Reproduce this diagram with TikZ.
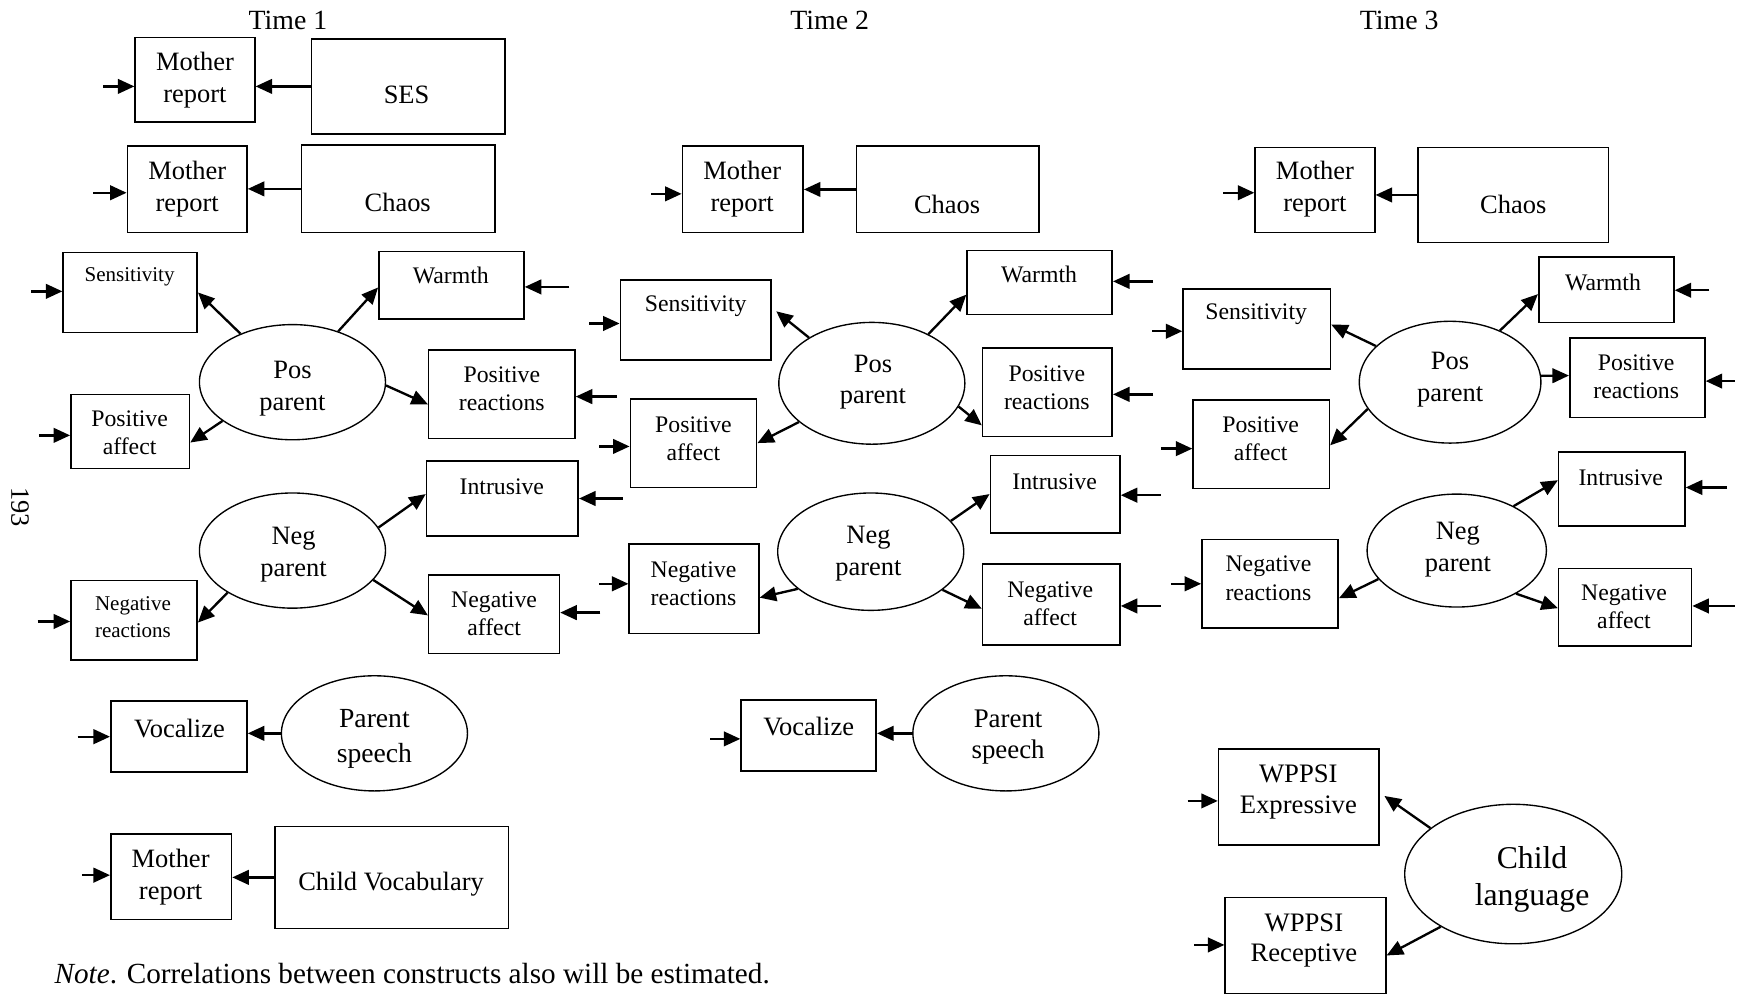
\documentclass[tikz,border=0pt]{standalone}
\usepackage{fontspec}
\setmainfont{Liberation Serif}
\usetikzlibrary{shapes.geometric,arrows.meta,fit,calc}
\newcommand\fmain{\fontsize{13.6}{16.4}\selectfont}
\newcommand\fmid{\fontsize{12.2}{14.4}\selectfont}
\newcommand\fsmall{\fontsize{10.8}{13.6}\selectfont}
\newcommand\flarge{\fontsize{16.3}{19.3}\selectfont}
\newcommand\ftime{\fontsize{14.3}{17}\selectfont}
% observed indicator: name, top-left corner, bottom-right corner
\newcommand\obs[3]{\node[box, fit={#2 #3}] (#1) {};}
% latent construct: name, centre x, centre y, radius x, radius y
\newcommand\lv[5]{\node[lat, minimum width=#4*0.04cm, minimum height=#5*0.04cm] (#1) at (#2,#3) {};}
\begin{document}
\begin{tikzpicture}[x=0.02cm,y=-0.02cm,
  box/.style={draw, line width=0.8pt, inner sep=0pt},
  lat/.style={draw, ellipse, line width=0.7pt, inner sep=0pt},
  lbl/.style={align=center, inner sep=0pt, font=\fmid},
  path/.style={line width=1.2pt, -{Triangle[length=8.5pt,width=7.5pt]}},
]
\path[use as bounding box] (0,0) rectangle (1568,898);

% ---------- column headings ----------
\node[lbl, font=\ftime] (h1) at (260,18) {Time 1};
\node[lbl, font=\ftime] (h2) at (749,18) {Time 2};
\node[lbl, font=\ftime] (h3) at (1263,18) {Time 3};
\node[lbl, font=\fmain, rotate=-90] (pg) at (18,458) {193};

% ================= Time 1 =================
\obs{mr1}{(122,34)}{(230,110)}
\node[lbl, font=\fmain] (mr1-t) at (176,72) {Mother\\report};
\obs{ses}{(281,35)}{(456,121)}
\node[lbl, font=\fmain] (ses-t) at (367,86) {SES};

\obs{mr2}{(115,132)}{(223,210)}
\node[lbl, font=\fmain] (mr2-t) at (169,171) {Mother\\report};
\obs{ch1}{(272,131)}{(447,210)}
\node[lbl, font=\fmain] (ch1-t) at (359,183) {Chaos};

\obs{s1}{(57,228)}{(178,300)}
\node[lbl, font=\fsmall] (s1-t) at (117,250) {Sensitivity};
\obs{w1}{(342,227)}{(473,288)}
\node[lbl] (w1-t) at (407,249) {Warmth};
\obs{pr1}{(387,316)}{(519,396)}
\node[lbl] (pr1-t) at (453,351) {Positive\\reactions};
\obs{pa1}{(64,356)}{(171,423)}
\node[lbl] (pa1-t) at (117,391) {Positive\\affect};
\lv{pp1}{264}{345}{84}{52}
\node[lbl, font=\fmain] (pp1-t) at (264,351) {Pos\\parent};

\obs{i1}{(385,416)}{(522,484)}
\node[lbl] (i1-t) at (453,439) {Intrusive};
\obs{na1}{(387,519)}{(505,590)}
\node[lbl] (na1-t) at (446,554) {Negative\\affect};
\obs{nr1}{(64,524)}{(178,596)}
\node[lbl, font=\fsmall] (nr1-t) at (120,557) {Negative\\reactions};
\lv{np1}{264}{497}{84}{52}
\node[lbl, font=\fmain] (np1-t) at (265,501) {Neg\\parent};

\obs{voc1}{(100,633)}{(223,697)}
\node[lbl, font=\fmain] (voc1-t) at (162,658) {Vocalize};
\lv{ps1}{338}{662}{84}{52}
\node[lbl, font=\fontsize{14.2}{18.1}\selectfont] (ps1-t) at (338,667) {Parent\\speech};

\obs{mr3}{(100,753)}{(209,830)}
\node[lbl, font=\fmain] (mr3-t) at (154,792) {Mother\\report};
\obs{cv}{(248,746)}{(459,838)}
\node[lbl, font=\fmain] (cv-t) at (353,798) {Child Vocabulary};

\node[lbl, font=\fontsize{15}{18}\selectfont, anchor=west] (note) at (49,879)
  {\textit{Note}. Correlations between constructs also will be estimated.};

% ================= Time 2 =================
\obs{mr4}{(616,132)}{(725,210)}
\node[lbl, font=\fmain] (mr4-t) at (670,171) {Mother\\report};
\obs{ch2}{(773,132)}{(938,210)}
\node[lbl, font=\fmain] (ch2-t) at (855,185) {Chaos};

\obs{s2}{(560,253)}{(696,325)}
\node[lbl] (s2-t) at (628,276) {Sensitivity};
\obs{w2}{(873,226)}{(1004,284)}
\node[lbl] (w2-t) at (938,248) {Warmth};
\obs{pr2}{(887,314)}{(1004,394)}
\node[lbl] (pr2-t) at (945,350) {Positive\\reactions};
\obs{pa2}{(569,360)}{(683,440)}
\node[lbl] (pa2-t) at (626,396) {Positive\\affect};
\lv{pp2}{787}{346}{84}{55}
\node[lbl, font=\fmain] (pp2-t) at (788,345) {Pos\\parent};

\obs{i2}{(894,411)}{(1011,481)}
\node[lbl] (i2-t) at (952,435) {Intrusive};
\obs{na2}{(887,509)}{(1011,582)}
\node[lbl] (na2-t) at (948,545) {Negative\\affect};
\obs{nr2}{(568,491)}{(685,572)}
\node[lbl] (nr2-t) at (626,527) {Negative\\reactions};
\lv{np2}{786}{498}{84}{53}
\node[lbl, font=\fmain] (np2-t) at (784,500) {Neg\\parent};

\obs{voc2}{(669,632)}{(791,696)}
\node[lbl, font=\fmain] (voc2-t) at (730,656) {Vocalize};
\lv{ps2}{908}{662}{84}{52}
\node[lbl, font=\fontsize{13.8}{16}\selectfont] (ps2-t) at (910,665) {Parent\\speech};

% ================= Time 3 =================
\obs{mr5}{(1133,133)}{(1241,210)}
\node[lbl, font=\fmain] (mr5-t) at (1187,171) {Mother\\report};
\obs{ch3}{(1280,133)}{(1452,219)}
\node[lbl, font=\fmain] (ch3-t) at (1366,185) {Chaos};

\obs{s3}{(1068,261)}{(1201,333)}
\node[lbl] (s3-t) at (1134,284) {Sensitivity};
\obs{w3}{(1389,232)}{(1511,291)}
\node[lbl] (w3-t) at (1447,255) {Warmth};
\obs{pr3}{(1417,305)}{(1539,377)}
\node[lbl] (pr3-t) at (1477,340) {Positive\\reactions};
\obs{pa3}{(1077,361)}{(1200,441)}
\node[lbl] (pa3-t) at (1138,396) {Positive\\affect};
\lv{pp3}{1309}{345}{82}{55}
\node[lbl, font=\fmain] (pp3-t) at (1309,343) {Pos\\parent};

\obs{i3}{(1407,408)}{(1521,475)}
\node[lbl] (i3-t) at (1463,431) {Intrusive};
\obs{na3}{(1407,513)}{(1527,583)}
\node[lbl] (na3-t) at (1466,548) {Negative\\affect};
\obs{nr3}{(1085,487)}{(1208,567)}
\node[lbl] (nr3-t) at (1145,522) {Negative\\reactions};
\lv{np3}{1315}{497}{81}{51}
\node[lbl, font=\fmain] (np3-t) at (1316,496) {Neg\\parent};

\obs{we}{(1100,676)}{(1245,763)}
\node[lbl, font=\fontsize{13.7}{15.9}\selectfont] (we-t) at (1172,715) {WPPSI\\Expressive};
\obs{wr}{(1106,810)}{(1251,897)}
\node[lbl, font=\fontsize{13.7}{15.9}\selectfont] (wr-t) at (1177,849) {WPPSI\\Receptive};
\lv{cl}{1366}{789}{98}{63}
\node[lbl, font=\flarge] (cl-t) at (1383,794) {Child\\language};

% ---------- measurement paths ----------
\draw[path] (ses.west) -- (ses.west -| mr1.east);
\draw[path] (ch1.west) -- (ch1.west -| mr2.east);
\draw[path] (ch2.west) -- (ch2.west -| mr4.east);
\draw[path] (ch3.west) -- (ch3.west -| mr5.east);
\draw[path] (cv.west) -- (cv.west -| mr3.east);
\draw[path] (ps1.west) -- (ps1.west -| voc1.east);
\draw[path] (ps2.west) -- (ps2.west -| voc2.east);

\draw[path] (pp1.137) -- (s1.east);
\draw[path] (pp1.48) -- ($(w1.west)+(0,2)$);
\draw[path] (pp1.-2) -- ($(pr1.west)+(0,9)$);
\draw[path] (pp1.209) -- ($(pa1.east)+(0,10)$);
\draw[path] (np1.15) -- ($(i1.west)+(0,-4)$);
\draw[path] (np1.-20) -- ($(na1.west)+(0,1)$);
\draw[path] (np1.213) -- ($(nr1.east)+(0,2)$);

\draw[path] (pp2.144) -- ($(s2.east)+(4,-8)$);
\draw[path] (pp2.41) -- ($(w2.west)+(0,11)$);
\draw[path] (pp2.-15) -- ($(pr2.west)+(0,30)$);
\draw[path] (pp2.208) -- (pa2.east);
\draw[path] (np2.21) -- (i2.west);
\draw[path] (np2.-28) -- ($(na2.west)+(0,4)$);
\draw[path] (np2.207) -- ($(nr2.east)+(0,8)$);

\draw[path] (pp3.154) -- ($(s3.east)+(0,-4)$);
\draw[path] (pp3.46) -- ($(w3.west)+(0,4)$);
\draw[path] (pp3.4) -- ($(pr3.west)+(0,-2)$);
\draw[path] (pp3.198) -- ($(pa3.east)+(0,1)$);
\draw[path] (np3.38) -- ($(i3.west)+(0,-8)$);
\draw[path] (np3.-36) -- ($(na3.west)+(0,1)$);
\draw[path] (np3.200) -- ($(nr3.east)+(0,13)$);
\draw[path] (cl.151) -- ($(we.east)+(4,-1)$);
\draw[path] (cl.216) -- ($(wr.east)+(0,9)$);

% ---------- residual (error) arrows ----------
\foreach \nm/\x/\y/\tg/\sd in {
  e1/93/78/mr1/west, e2/84/174/mr2/west, e3/28/263/s1/west,
  e4/514/259/w1/east, e5/557/358/pr1/east, e6/35/393/pa1/west,
  e7/562/450/i1/east, e8/542/553/na1/east, e9/34/561/nr1/west,
  e10/70/665/voc1/west, e11/74/790/mr3/west,
  e12/588/175/mr4/west, e13/532/292/s2/west, e14/1041/254/w2/east,
  e15/1041/356/pr2/east, e16/541/403/pa2/west, e17/1048/447/i2/east,
  e18/1048/547/na2/east, e19/541/527/nr2/west, e20/641/667/voc2/west,
  e21/1104/174/mr5/west, e22/1040/299/s3/west, e23/1543/262/w3/east,
  e24/1566/344/pr3/east, e25/1048/405/pa3/west, e26/1559/440/i3/east,
  e27/1566/547/na3/east, e28/1057/527/nr3/west, e29/1072/723/we/west,
  e30/1078/853/wr/west}{
  \coordinate (\nm) at (\x,\y);
  \draw[path] (\nm) -- (\nm -| \tg.\sd);
}
\end{tikzpicture}
\end{document}
